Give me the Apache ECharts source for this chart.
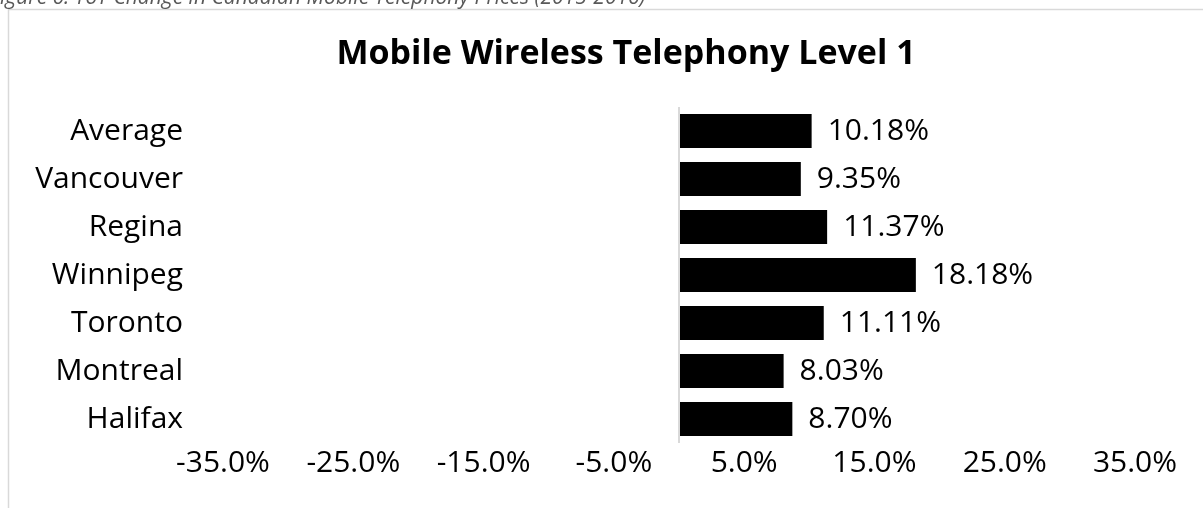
<!DOCTYPE html>
<html>
<head>
<meta charset="utf-8">
<script src="https://cdn.jsdelivr.net/npm/echarts@6/dist/echarts.min.js"></script>
<style>
html,body{margin:0;padding:0;background:#fff;}
#chart{width:1203px;height:508px;}
</style>
</head>
<body>
<div id="chart"></div>
<script>
const titleText = 'Mobile Wireless Telephony Level 1';
const captionText = 'Figure 6: YoY Change in Canadian Mobile Telephony Prices (2015-2016)';
const categories = ['Halifax', 'Montreal', 'Toronto', 'Winnipeg', 'Regina', 'Vancouver', 'Average'];
const values = [8.70, 8.03, 11.11, 18.18, 11.37, 9.35, 10.18];
const axisMin = -35;
const axisMax = 35;
const axisStep = 10;

const FONT = '"Open Sans", "Noto Sans", sans-serif';
const chart = echarts.init(document.getElementById('chart'));
chart.setOption({
  animation: false,
  backgroundColor: '#fff',
  graphic: [
    {
      type: 'rect', silent: true, z: -1,
      shape: { x: 8.5, y: 9.5, width: 1400, height: 700 },
      style: { fill: 'none', stroke: '#d9d9d9', lineWidth: 1.5 }
    },
    {
      type: 'text', silent: true, x: -10, y: -1.5,
      style: {
        text: captionText, fill: '#595959', fontSize: 21, fontStyle: 'italic',
        fontFamily: FONT, verticalAlign: 'middle', align: 'left'
      }
    }
  ],
  title: {
    text: titleText,
    left: 621, top: 32, textAlign: 'center',
    textStyle: { fontFamily: FONT, fontSize: 34, fontWeight: 'bold', color: '#000' }
  },
  grid: { left: 223, right: 68, top: 107, bottom: 65, containLabel: false },
  xAxis: {
    type: 'value', min: axisMin, max: axisMax, interval: axisStep,
    axisLine: { show: false }, axisTick: { show: false }, splitLine: { show: false },
    axisLabel: {
      fontFamily: FONT, fontSize: 30, color: '#000', margin: 5,
      formatter: v => v.toFixed(1) + '%'
    }
  },
  yAxis: {
    type: 'category', data: categories,
    axisLine: { show: false }, axisTick: { show: false },
    axisLabel: { fontFamily: FONT, fontSize: 30, color: '#000', margin: 40 }
  },
  series: [{
    type: 'bar', data: values,
    barCategoryGap: '29%',
    itemStyle: { color: '#000' },
    label: {
      show: true, position: 'right', distance: 16,
      fontFamily: FONT, fontSize: 30, color: '#000',
      formatter: p => p.value.toFixed(2) + '%'
    },
    markLine: {
      silent: true, symbol: 'none', label: { show: false },
      lineStyle: { color: '#d9d9d9', width: 2, type: 'solid' },
      data: [{ xAxis: 0 }]
    }
  }]
});
</script>
</body>
</html>
